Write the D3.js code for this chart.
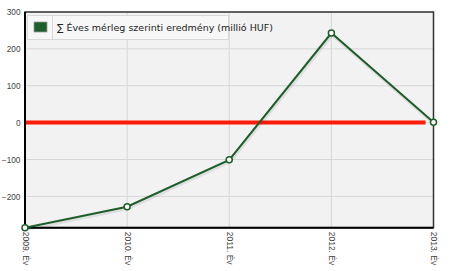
<!DOCTYPE html>
<html><head><meta charset="utf-8">
<script src="https://cdn.jsdelivr.net/npm/d3@7"></script>
<style>body{margin:0;background:#fff;}svg{display:block;font-family:"DejaVu Sans",Verdana,sans-serif;}</style>
</head><body>
<script>
const categories = ["2009. Év","2010. Év","2011. Év","2012. Év","2013. Év"];
const values = [-285, -228, -101, 243, 1];
const refValue = [0];
const yTicks = [300, 200, 100, 0, -100, -200];
const seriesName = "∑ Éves mérleg szerinti eredmény (millió HUF)";

const W = 450, H = 271;
const m = {left: 25, right: 16.5, top: 12, bottom: 43.3};
const svg = d3.select("body").append("svg").attr("width", W).attr("height", H);
const x = d3.scalePoint().domain(categories).range([m.left, W - m.right]);
const y = d3.scaleLinear().domain([-285, 300]).range([H - m.bottom, m.top]);

const defs = svg.append("defs");
defs.append("filter").attr("id","blur").attr("filterUnits","userSpaceOnUse")
  .attr("x", 0).attr("y", 0).attr("width", W).attr("height", H)
  .append("feGaussianBlur").attr("stdDeviation", 0.7);

svg.append("rect").attr("x", m.left).attr("y", m.top).attr("width", W - m.left - m.right)
  .attr("height", H - m.top - m.bottom).attr("fill", "#f2f2f2");

// grid
svg.append("g").selectAll("line").data(yTicks).join("line")
  .attr("x1", m.left).attr("x2", W - m.right).attr("y1", d => y(d)).attr("y2", d => y(d))
  .attr("stroke", "#d6d6d6").attr("stroke-width", 1);
svg.append("g").selectAll("line").data(categories).join("line")
  .attr("x1", d => x(d)).attr("x2", d => x(d)).attr("y1", m.top).attr("y2", H - m.bottom)
  .attr("stroke", "#d6d6d6").attr("stroke-width", 1);

const tickFont = "Liberation Sans, Arial, sans-serif";
// y axis
const yAxis = svg.append("g").attr("transform", `translate(${m.left},0)`)
  .call(d3.axisLeft(y).tickValues(yTicks).tickSize(0).tickPadding(4.5));
yAxis.select(".domain").remove();
yAxis.selectAll("text").attr("fill", "#444").style("font-size", "8.3px").style("font-family", tickFont);

// x axis labels
const xAxis = svg.append("g").attr("transform", `translate(0,${H - m.bottom})`)
  .call(d3.axisBottom(x).tickSize(0));
xAxis.select(".domain").remove();
xAxis.selectAll("text").attr("fill", "#444").style("font-size", "8.5px")
  .style("font-family", tickFont)
  .attr("text-anchor", "start").attr("dy", "0.35em")
  .attr("transform", "translate(0,4) rotate(90)").attr("x", 0).attr("y", 0);

// borders
svg.append("rect").attr("x", m.left).attr("y", m.top).attr("width", W - m.left - m.right)
  .attr("height", H - m.top - m.bottom).attr("fill", "none").attr("stroke", "#333").attr("stroke-width", 1.5);
svg.append("line").attr("x1", m.left).attr("x2", m.left).attr("y1", m.top).attr("y2", H - m.bottom)
  .attr("stroke", "#000").attr("stroke-width", 2);
svg.append("line").attr("x1", m.left).attr("x2", W - m.right).attr("y1", H - m.bottom).attr("y2", H - m.bottom)
  .attr("stroke", "#000").attr("stroke-width", 2);

// red reference line
svg.selectAll(".ref").data(refValue).join("line").attr("class","ref")
  .attr("x1", m.left + 1).attr("x2", x(categories[4]) - 8).attr("y1", d => y(d)).attr("y2", d => y(d))
  .attr("stroke", "#ff1a0a").attr("stroke-width", 4).attr("filter", "url(#blur)");

// series line shadow
const line = d3.line().x((d, i) => x(categories[i])).y(d => y(d));
svg.append("path").datum(values).attr("d", line).attr("fill", "none")
  .attr("stroke", "#000").attr("stroke-opacity", 0.08).attr("stroke-width", 3)
  .attr("transform", "translate(1,2)");
svg.append("path").datum(values).attr("d", line).attr("fill", "none")
  .attr("stroke", "#1d5e2b").attr("stroke-width", 2);
svg.append("g").selectAll("circle").data(values).join("circle")
  .attr("cx", (d, i) => x(categories[i])).attr("cy", d => y(d)).attr("r", 3)
  .attr("fill", "#fff").attr("stroke", "#1d5e2b").attr("stroke-width", 1.5);

// legend
const lg = svg.append("g");
lg.append("rect").attr("x", 27.5).attr("y", 15.5).attr("width", 201).attr("height", 24)
  .attr("fill", "#f7f7f7").attr("stroke", "#d8d8d8");
lg.append("line").attr("x1", 52.5).attr("x2", 52.5).attr("y1", 15.5).attr("y2", 39.5).attr("stroke", "#d8d8d8");
lg.append("rect").attr("x", 34).attr("y", 22).attr("width", 13).attr("height", 10)
  .attr("fill", "#1d5e2b").attr("stroke", "#9a9a9a").attr("stroke-width", 0.8);
lg.append("text").attr("x", 57).attr("y", 31).text(seriesName)
  .attr("fill", "#222").style("font-size", "9.5px").style("font-family", "DejaVu Sans, Verdana, sans-serif");
</script>
</body></html>
